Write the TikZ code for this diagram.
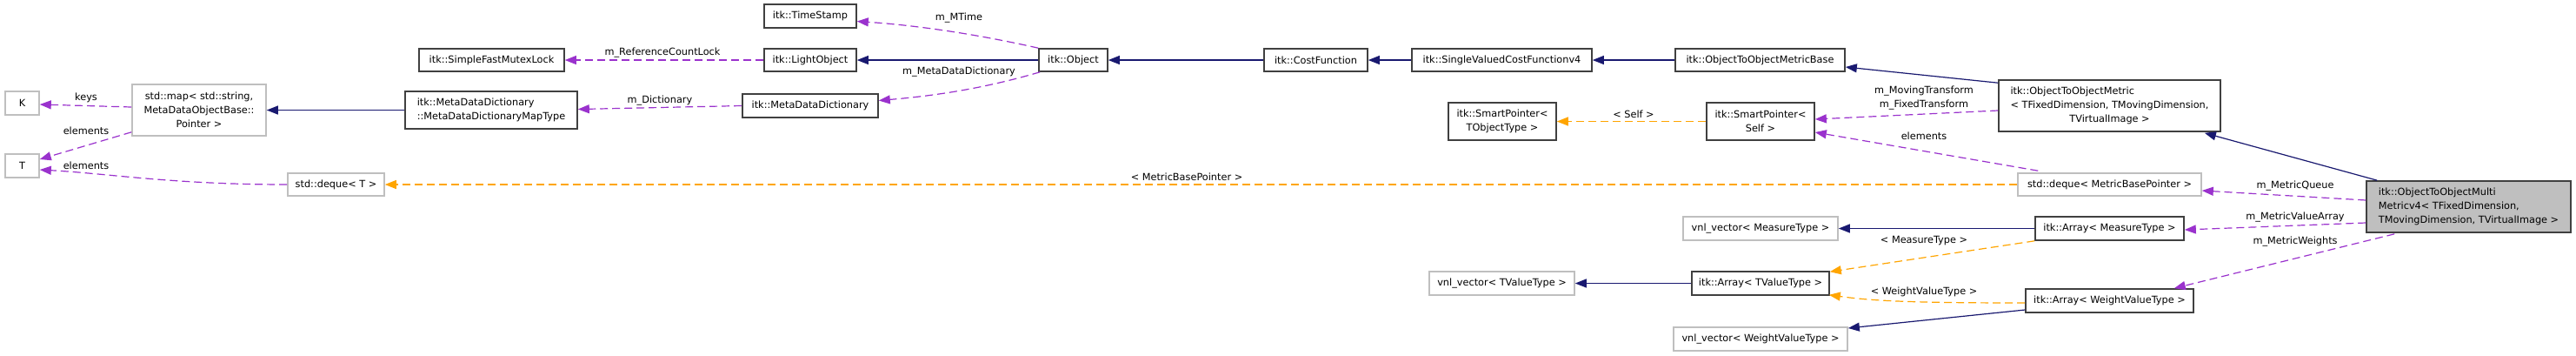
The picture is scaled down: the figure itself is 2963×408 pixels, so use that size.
\documentclass[tikz,border=0pt]{standalone}
\usepackage{fontspec}
\setmainfont{DejaVu Sans}
\usetikzlibrary{arrows.meta,calc}
\definecolor{navy}{HTML}{191970}
\definecolor{purp}{HTML}{9A32CD}
\definecolor{orng}{HTML}{FFA500}
\definecolor{graybd}{HTML}{BFBFBF}
\definecolor{darkbd}{HTML}{404040}
\definecolor{selfill}{HTML}{BFBFBF}
\newcommand\dxfont{\fontsize{11.3}{16}\selectfont}
\begin{document}
\begin{tikzpicture}[x=1pt,y=-1pt,
  box/.style={draw=darkbd, line width=1.6pt, fill=white, inner sep=0pt, font=\dxfont, align=center},
  greybox/.style={box, draw=graybd},
  selbox/.style={box, fill=selfill},
  lbl/.style={font=\dxfont, inner sep=0pt, align=center},
  tip/.style={-{Triangle[length=13pt,width=10pt]}},
  inh/.style={draw=navy, line width=1.2pt, tip},
  usedby/.style={draw=purp, line width=1.2pt, dash pattern=on 9pt off 5pt, tip},
  tmpl/.style={draw=orng, line width=1.2pt, dash pattern=on 9pt off 5pt, tip}]
\useasboundingbox[fill=white] (0,0) rectangle (2963,408);

% nodes
\node[greybox, minimum width=39pt, minimum height=27pt] (K) at (25.5,118.5) {K};
\node[greybox, minimum width=39pt, minimum height=27pt] (T) at (25.5,190.5) {T};
\node[greybox, minimum width=154pt, minimum height=59pt] (map) at (229,126.5) {std::map< std::string,\\ MetaDataObjectBase::\\ Pointer >};
\node[greybox, minimum width=111pt, minimum height=26pt] (dequeT) at (386.5,212) {std::deque< T >};
\node[box, minimum width=198pt, minimum height=43pt, align=left] (maptype) at (565,126.5) {itk::MetaDataDictionary\\::MetaDataDictionaryMapType};
\node[box, minimum width=167pt, minimum height=26pt] (sfml) at (565.5,69) {itk::SimpleFastMutexLock};
\node[box, minimum width=106pt, minimum height=27pt] (tstamp) at (932,18.5) {itk::TimeStamp};
\node[box, minimum width=106pt, minimum height=26pt] (light) at (932,69) {itk::LightObject};
\node[box, minimum width=156pt, minimum height=27pt] (mdd) at (932,121.5) {itk::MetaDataDictionary};
\node[box, minimum width=79pt, minimum height=26pt] (object) at (1234.5,69) {itk::Object};
\node[box, minimum width=119pt, minimum height=26pt] (cost) at (1513.5,69) {itk::CostFunction};
\node[box, minimum width=207pt, minimum height=26pt] (svcf) at (1727.5,69) {itk::SingleValuedCostFunctionv4};
\node[box, minimum width=195pt, minimum height=26pt] (mbase) at (2024.5,69) {itk::ObjectToObjectMetricBase};
\node[box, minimum width=124pt, minimum height=43pt] (spt) at (1728,139.5) {itk::SmartPointer<\\ TObjectType >};
\node[box, minimum width=124pt, minimum height=43pt] (sps) at (2025,139.5) {itk::SmartPointer<\\ Self >};
\node[box, minimum width=255pt, minimum height=59pt] (otom) at (2426.5,121.5) {\begin{tabular}{@{}l@{}}itk::ObjectToObjectMetric\\< TFixedDimension, TMovingDimension,\\\multicolumn{1}{@{}c@{}}{TVirtualImage >}\end{tabular}};
\node[greybox, minimum width=211pt, minimum height=26pt] (dequembp) at (2426.5,212) {std::deque< MetricBasePointer >};
\node[selbox, minimum width=235pt, minimum height=59pt] (multi) at (2839.5,237.5) {\begin{tabular}{@{}l@{}}itk::ObjectToObjectMulti\\Metricv4< TFixedDimension,\\\multicolumn{1}{@{}c@{}}{TMovingDimension, TVirtualImage >}\end{tabular}};
\node[greybox, minimum width=178pt, minimum height=27pt] (vnlm) at (2025,262.5) {vnl\_vector< MeasureType >};
\node[box, minimum width=171pt, minimum height=27pt] (arrm) at (2426.5,262.5) {itk::Array< MeasureType >};
\node[greybox, minimum width=167pt, minimum height=27pt] (vnlt) at (1727.5,325.5) {vnl\_vector< TValueType >};
\node[box, minimum width=158pt, minimum height=27pt] (arrt) at (2025,325.5) {itk::Array< TValueType >};
\node[greybox, minimum width=200pt, minimum height=27pt] (vnlw) at (2025,389.5) {vnl\_vector< WeightValueType >};
\node[box, minimum width=193pt, minimum height=27pt] (arrw) at (2426.5,345.5) {itk::Array< WeightValueType >};

% edges
\draw[usedby] ($(map.west)+(0,-3.5)$) -- ($(K.east)+(0,1.5)$);
\draw[usedby] ($(map.south west)+(0,-5)$) -- ($(T.east)+(0,-7.5)$);
\draw[usedby] (dequeT.west) .. controls ($(dequeT.west)+(-130,0)$) and ($(T.east)+(80,9)$) .. ($(T.east)+(0,4.5)$);
\draw[inh] (maptype.west) -- (map.east);
\draw[usedby] (mdd.west) -- ($(maptype.east)+(0,-1)$);
\draw[usedby] (light.west) -- (sfml.east);
\draw[inh] (object.west) -- (light.east);
\draw[usedby] (object.north west) .. controls ($(object.north west)+(-80,-18)$) and ($(tstamp.east)+(60,10)$) .. ($(tstamp.east)+(0,6)$);
\draw[usedby] ($(object.south west)+(2,0)$) .. controls ($(object.south west)+(-60,18)$) and ($(mdd.east)+(70,-12)$) .. ($(mdd.east)+(0,-6)$);
\draw[inh] (cost.west) -- (object.east);
\draw[inh] (svcf.west) -- (cost.east);
\draw[inh] (mbase.west) -- (svcf.east);
\draw[inh] ($(otom.north west)+(0,4)$) -- ($(mbase.east)+(0,8)$);
\draw[usedby] ($(otom.west)+(0,5.5)$) -- ($(sps.east)+(0,-2.5)$);
\draw[usedby] ($(dequembp.north west)+(24,-2)$) -- ($(sps.east)+(0,12.5)$);
\draw[tmpl] (sps.west) -- (spt.east);
\draw[tmpl] (dequembp.west) -- (dequeT.east);
\draw[inh] ($(multi.north west)+(13,0)$) -- ($(otom.south east)+(-19,1)$);
\draw[usedby] ($(multi.west)+(0,-7.5)$) -- ($(dequembp.east)+(0,7)$);
\draw[usedby] ($(multi.west)+(0,18.5)$) -- ($(arrm.east)+(0,1.5)$);
\draw[usedby] ($(multi.south west)+(33,1)$) -- ($(arrw.north east)+(-23,0)$);
\draw[inh] (arrm.west) -- (vnlm.east);
\draw[tmpl] (arrm.south west) -- ($(arrt.north east)+(0,1)$);
\draw[tmpl] ($(arrw.west)+(0,2.5)$) .. controls ($(arrw.west)+(-130,2.5)$) and ($(arrt.south east)+(50,6)$) .. ($(arrt.south east)+(-1,-1)$);
\draw[inh] ($(arrw.west)+(0,10.5)$) -- ($(vnlw.east)+(0,-12.5)$);
\draw[inh] (arrt.west) -- (vnlt.east);

% labels
\node[lbl] (l1) at (99,112) {keys};
\node[lbl] (l2) at (99,150) {elements};
\node[lbl] (l3) at (99,190) {elements};
\node[lbl] (l4) at (759,116) {m\_Dictionary};
\node[lbl] (l5) at (762,61) {m\_ReferenceCountLock};
\node[lbl] (l6) at (1103,21) {m\_MTime};
\node[lbl] (l7) at (1103,83) {m\_MetaDataDictionary};
\node[lbl] (l8) at (1879,131) {< Self >};
\node[lbl] (l9) at (1365,203) {< MetricBasePointer >};
\node[lbl] (l10) at (2213,113) {m\_MovingTransform\\m\_FixedTransform};
\node[lbl] (l11) at (2213,156) {elements};
\node[lbl] (l12) at (2640,214) {m\_MetricQueue};
\node[lbl] (l13) at (2640,250) {m\_MetricValueArray};
\node[lbl] (l14) at (2640,278) {m\_MetricWeights};
\node[lbl] (l15) at (2213,277) {< MeasureType >};
\node[lbl] (l16) at (2213,335) {< WeightValueType >};
\end{tikzpicture}
\end{document}
